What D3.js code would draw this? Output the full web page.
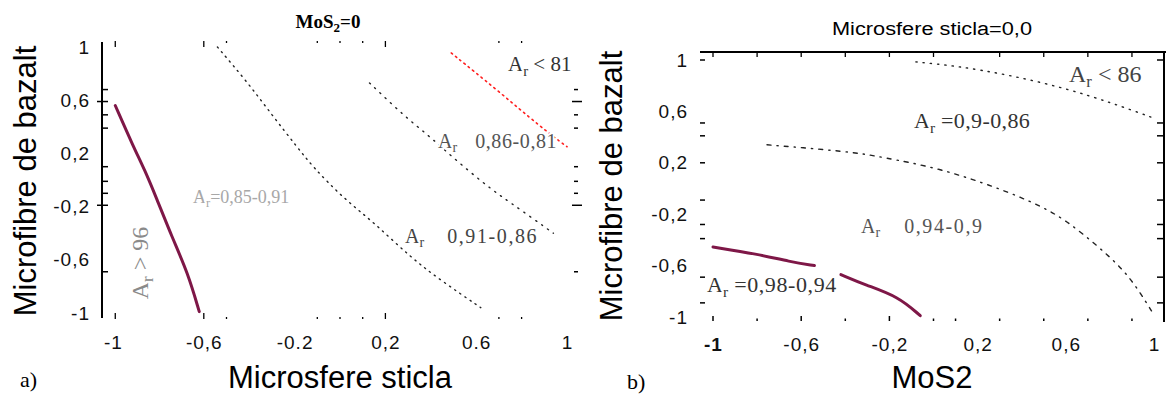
<!DOCTYPE html>
<html>
<head>
<meta charset="utf-8">
<script src="https://cdn.jsdelivr.net/npm/d3@7"></script>
<style>
  html, body { margin: 0; padding: 0; background: #fff; }
  svg { display: block; }
  .tick text { font-family: "Liberation Sans", Arial, sans-serif; font-size: 19px; letter-spacing: 1px; fill: #111; }
  .axis-title { font-family: "Liberation Sans", Arial, sans-serif; font-size: 31px; fill: #000; }
  .zone { font-family: "Liberation Serif", "Times New Roman", serif; paint-order: stroke; stroke: #fff; stroke-width: 4px; stroke-linejoin: round; }
</style>
</head>
<body>
<svg id="chart" width="1166" height="396"></svg>
<script>
// tick values and their labels (the source mixes commas and points)
const xTicks = [-1, -0.6, -0.2, 0.2, 0.6, 1];
const yTicks = [1, 0.6, 0.2, -0.2, -0.6, -1];
const leftXTickLabels = ['-1', '-0,6', '-0.2', '0,2', '0.6', '1'];
const leftYTickLabels = ['1', '0,6', '0,2', '-0,2', '-0,6', '-1'];
const rightXTickLabels = ['-1', '-0,6', '-0,2', '0,2', '0,6', '1'];
const rightYTickLabels = ['1', '0,6', '0,2', '-0,2', '-0,6', '-1'];

// small frame marks
const leftFrameX = [-0.99, -0.6, -0.5, -0.1, 0, 0.1, 0.2, 0.7, 0.8];
const leftFrameY = [0.68, 0.59, 0.49, 0.39, 0.1, -0.01, -0.1, -0.19, -0.69];
const leftLongY = [0.59, -0.19];
const rightFrameXTop = [-1, -0.8, -0.6, -0.4, -0.2, 0, 0.3, 0.5, 0.7, 0.9];
const rightFrameXBottom = [-1, -0.8, -0.6, -0.4, -0.2, 0, 0.1, 0.3, 0.5, 0.7, 0.9];
const rightFrameY = [1, 0.51, 0.41, 0.2, -0.09, -0.28, -0.39, -0.69, -0.89];

// a) contours: x = Microsfere sticla, y = Microfibre de bazalt
const leftAr96 = [[-0.99, 0.56], [-0.91, 0.25], [-0.86, 0.075], [-0.81, -0.13], [-0.74, -0.43], [-0.67, -0.70], [-0.62, -0.99]];
const leftAr91 = [[-0.54, 1.0], [-0.41, 0.74], [-0.30, 0.49], [-0.19, 0.25], [-0.12, 0.10], [0.01, -0.13], [0.15, -0.32], [0.31, -0.58], [0.44, -0.75], [0.62, -0.96]];
const leftAr86 = [[0.13, 0.73], [0.24, 0.55], [0.32, 0.43], [0.40, 0.32], [0.51, 0.15], [0.63, -0.02], [0.70, -0.11], [0.75, -0.17], [0.85, -0.29], [0.94, -0.40]];
const leftAr81 = [[0.49, 0.955], [0.69, 0.68], [0.89, 0.39], [1.0, 0.25]];

// b) contours: x = MoS2, y = Microfibre de bazalt
const rightAr98a = [[-1, -0.455], [-0.8, -0.51], [-0.65, -0.57], [-0.54, -0.60]];
const rightAr98b = [[-0.42, -0.67], [-0.31, -0.75], [-0.16, -0.84], [-0.06, -0.99]];
const rightAr94 = [[-0.755, 0.34], [-0.61, 0.32], [-0.35, 0.28], [-0.24, 0.245], [0.025, 0.16], [0.30, 0.0], [0.48, -0.13], [0.60, -0.245], [0.75, -0.455], [0.86, -0.63], [0.93, -0.79], [0.995, -0.97]];
const rightAr86 = [[-0.08, 0.985], [0.10, 0.955], [0.34, 0.885], [0.60, 0.78], [0.81, 0.665], [0.995, 0.55]];

const maroon = '#7e1747';
const svg = d3.select('#chart');

const line = (x, y) => d3.line()
  .x((d) => x(d[0]))
  .y((d) => y(d[1]))
  .curve(d3.curveBasis);

function drawContour(g, x, y, data, color, width, dash) {
  g.append('path')
    .datum(data)
    .attr('d', line(x, y))
    .attr('fill', 'none')
    .attr('stroke', color)
    .attr('stroke-width', width)
    .attr('stroke-dasharray', dash)
    .attr('stroke-linecap', 'round');
}

// "A" with subscript r, then the rest of the label
function zoneLabel(g, px, py, size, color, rest, opts = {}) {
  const t = g.append('text')
    .attr('class', 'zone')
    .attr('font-size', size)
    .attr('fill', color);
  if (opts.rotate) {
    t.attr('transform', `translate(${px},${py}) rotate(-90)`).attr('text-anchor', 'middle');
  } else {
    t.attr('x', px).attr('y', py);
  }
  t.append('tspan').text('A');
  t.append('tspan').attr('font-size', size * 0.7).attr('dy', size * 0.22).text('r');
  t.append('tspan')
    .attr('dy', -size * 0.22)
    .attr('dx', opts.dx || 0)
    .attr('letter-spacing', opts.ls || 0)
    .text(rest);
  return t;
}

function tickLabels(axis, labels) {
  return axis.tickFormat((d, i) => labels[i]);
}

// ---------- a) ----------
const xL = d3.scaleLinear().domain([-1, 1]).range([113, 567]);
const yL = d3.scaleLinear().domain([-1, 1]).range([313, 47]);
const gL = svg.append('g');

gL.append('g')
  .attr('transform', 'translate(102,0)')
  .call(tickLabels(d3.axisLeft(yL).tickValues(yTicks).tickSize(0).tickPadding(12), leftYTickLabels))
  .call((g) => g.select('.domain').remove());
gL.append('line')
  .attr('x1', 102).attr('x2', 102)
  .attr('y1', yL(1) - 5).attr('y2', yL(-1) + 5)
  .attr('stroke', '#000').attr('stroke-width', 2);

gL.append('g')
  .attr('transform', 'translate(0,318)')
  .call(tickLabels(d3.axisBottom(xL).tickValues(xTicks).tickSize(0).tickPadding(18), leftXTickLabels))
  .call((g) => g.select('.domain').remove());

// frame marks
gL.selectAll('.fy')
  .data(leftFrameY)
  .join('g')
  .each(function (d) {
    const g = d3.select(this);
    const long = leftLongY.includes(d);
    g.append('line').attr('x1', long ? 97 : 102).attr('x2', 108)
      .attr('y1', yL(d)).attr('y2', yL(d)).attr('stroke', '#000').attr('stroke-width', 1.5);
    g.append('line').attr('x1', long ? 572 : 574).attr('x2', long ? 582 : 578)
      .attr('y1', yL(d)).attr('y2', yL(d)).attr('stroke', '#000').attr('stroke-width', 1.5);
  });
gL.selectAll('.fx')
  .data(leftFrameX)
  .join('g')
  .each(function (d) {
    const g = d3.select(this);
    const major = [-0.99, -0.6, 0.2].includes(d);
    g.append('line').attr('x1', xL(d)).attr('x2', xL(d))
      .attr('y1', 41).attr('y2', major ? 47 : 43).attr('stroke', '#000').attr('stroke-width', 1.3);
    g.append('line').attr('x1', xL(d)).attr('x2', xL(d))
      .attr('y1', major ? 313 : 317).attr('y2', 319).attr('stroke', '#000').attr('stroke-width', 1.3);
  });

drawContour(gL, xL, yL, leftAr96, maroon, 3, null);
drawContour(gL, xL, yL, leftAr91, '#222', 1.4, '1.2,5');
drawContour(gL, xL, yL, leftAr86, '#222', 1.4, '1.2,6');
drawContour(gL, xL, yL, leftAr81, '#ff1e1e', 1.6, '1.5,4');

zoneLabel(gL, 193, 203, 18, '#a8a8a8', '=0,85-0,91');
zoneLabel(gL, 148, 263, 24, '#8a8a8a', ' > 96', { rotate: true });
zoneLabel(gL, 438, 148, 20, '#555', '0,86-0,81', { dx: 18, ls: 0.6 });
zoneLabel(gL, 508, 71, 21, '#333', ' < 81');
zoneLabel(gL, 405, 243, 20, '#444', '0,91-0,86', { dx: 23, ls: 1.6 });

const tL = gL.append('text')
  .attr('x', 328).attr('y', 28)
  .attr('text-anchor', 'middle')
  .attr('font-family', '"Liberation Serif", "Times New Roman", serif')
  .attr('font-weight', 'bold')
  .attr('font-size', 19);
tL.append('tspan').text('MoS');
tL.append('tspan').attr('font-size', 13).attr('dy', 4).text('2');
tL.append('tspan').attr('dy', -4).text('=0');

gL.append('text').attr('class', 'axis-title')
  .attr('x', 340).attr('y', 388).attr('text-anchor', 'middle')
  .text('Microsfere sticla');
gL.append('text').attr('class', 'axis-title')
  .attr('transform', 'translate(36,181) rotate(-90)').attr('text-anchor', 'middle')
  .text('Microfibre de bazalt');
gL.append('text')
  .attr('x', 20).attr('y', 387)
  .attr('font-family', '"Liberation Serif", "Times New Roman", serif')
  .attr('font-size', 22)
  .text('a)');

// ---------- b) ----------
const xR = d3.scaleLinear().domain([-1, 1]).range([713, 1154]);
const yR = d3.scaleLinear().domain([-1, 1]).range([317, 60]);
const gR = svg.append('g');

gR.append('g')
  .attr('transform', 'translate(700,0)')
  .call(tickLabels(d3.axisLeft(yR).tickValues(yTicks).tickSize(0).tickPadding(12), rightYTickLabels))
  .call((g) => g.select('.domain').remove());
gR.append('g')
  .attr('transform', 'translate(0,320)')
  .call(tickLabels(d3.axisBottom(xR).tickValues(xTicks).tickSize(0).tickPadding(18), rightXTickLabels))
  .call((g) => g.select('.domain').remove())
  .call((g) => g.selectAll('.tick text').filter((d) => d === -1).attr('font-weight', 'bold'));

// top and right frame lines
gR.append('line').attr('x1', 700).attr('x2', 1166).attr('y1', 52).attr('y2', 52)
  .attr('stroke', '#000').attr('stroke-width', 2);
gR.append('line').attr('x1', 1164).attr('x2', 1164).attr('y1', 52).attr('y2', 322)
  .attr('stroke', '#000').attr('stroke-width', 2);

gR.selectAll('.fy')
  .data(rightFrameY)
  .join('g')
  .each(function (d) {
    const g = d3.select(this);
    g.append('line').attr('x1', 700).attr('x2', 705)
      .attr('y1', yR(d)).attr('y2', yR(d)).attr('stroke', '#000').attr('stroke-width', 1.5);
    g.append('line').attr('x1', 1157).attr('x2', 1164)
      .attr('y1', yR(d)).attr('y2', yR(d)).attr('stroke', '#000').attr('stroke-width', 1.5);
  });
gR.selectAll('.fxt')
  .data(rightFrameXTop)
  .join('line')
  .attr('x1', (d) => xR(d)).attr('x2', (d) => xR(d))
  .attr('y1', 52).attr('y2', 57)
  .attr('stroke', '#000').attr('stroke-width', 1.3);
gR.selectAll('.fxb')
  .data(rightFrameXBottom)
  .join('line')
  .attr('x1', (d) => xR(d)).attr('x2', (d) => xR(d))
  .attr('y1', (d) => (d === -0.2 || d === -1 || d === -0.6 ? 316 : 318.5)).attr('y2', 321)
  .attr('stroke', '#000').attr('stroke-width', 1.5);

drawContour(gR, xR, yR, rightAr98a, maroon, 3, null);
drawContour(gR, xR, yR, rightAr98b, maroon, 3, null);
drawContour(gR, xR, yR, rightAr94, '#222', 1.4, '4,6,1.3,6');
drawContour(gR, xR, yR, rightAr86, '#222', 1.4, '1.3,6');

zoneLabel(gR, 1069, 82, 24, '#444', ' < 86');
zoneLabel(gR, 914, 128, 22, '#333', ' =0,9-0,86', { ls: 0.4 });
zoneLabel(gR, 861, 233, 20, '#555', '0,94-0,9', { dx: 24, ls: 1.6 });
zoneLabel(gR, 707, 292, 22, '#333', ' =0,98-0,94', { ls: 0.6 });

gR.append('text')
  .attr('x', 932).attr('y', 35)
  .attr('text-anchor', 'middle')
  .attr('font-family', '"Liberation Sans", Arial, sans-serif')
  .attr('font-size', 18)
  .attr('textLength', 200)
  .attr('lengthAdjust', 'spacingAndGlyphs')
  .text('Microsfere sticla=0,0');

gR.append('text').attr('class', 'axis-title')
  .attr('x', 932).attr('y', 388).attr('text-anchor', 'middle')
  .text('MoS2');
gR.append('text').attr('class', 'axis-title')
  .attr('transform', 'translate(622,186) rotate(-90)').attr('text-anchor', 'middle')
  .text('Microfibre de bazalt');
gR.append('text')
  .attr('x', 627).attr('y', 389)
  .attr('font-family', '"Liberation Serif", "Times New Roman", serif')
  .attr('font-size', 22)
  .text('b)');
</script>
</body>
</html>
